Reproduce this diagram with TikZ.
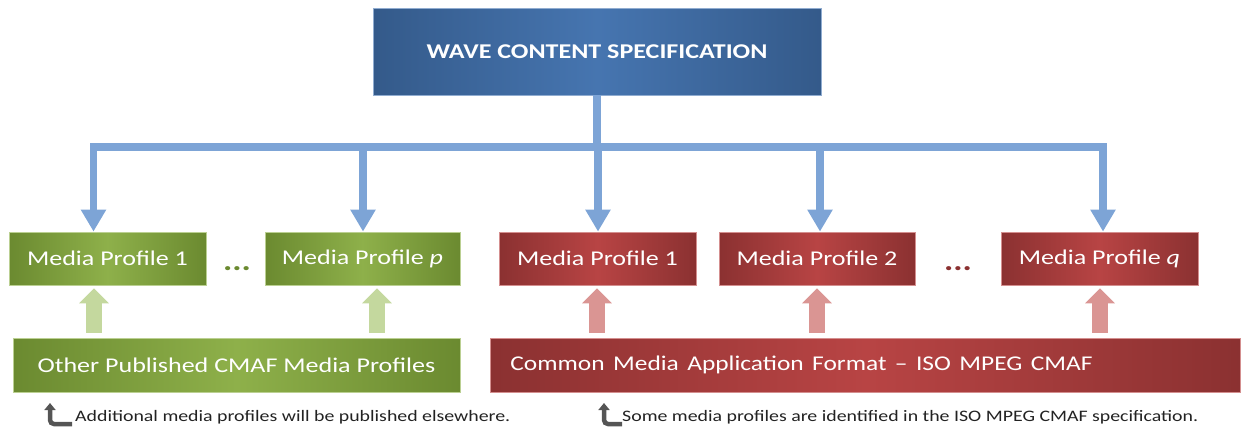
\documentclass[tikz,border=0pt]{standalone}
\usepackage{fontspec}
\usepackage{graphicx}
\setmainfont{Carlito}
\usetikzlibrary{arrows.meta}
\newcommand{\hs}[1]{\scalebox{1.24}[1]{#1}}
\definecolor{bluedark}{HTML}{345A8A}
\definecolor{bluemid}{HTML}{4675B0}
\definecolor{greendark}{HTML}{6B8A30}
\definecolor{greenmid}{HTML}{8EB04A}
\definecolor{reddark}{HTML}{8B3131}
\definecolor{redmid}{HTML}{B84444}
\definecolor{connblue}{HTML}{7DA4D6}
\definecolor{upgreen}{HTML}{C4D89E}
\definecolor{upred}{HTML}{DA9593}
\definecolor{icongray}{HTML}{555555}
\definecolor{notetext}{HTML}{222222}
\tikzset{
  box/.style={inner sep=0pt, text=white, font=\fontsize{21}{24}\selectfont, line width=0.8pt},
  bluebox/.style={box, left color=bluedark, right color=bluedark, middle color=bluemid, draw=bluemid!60!white},
  greenbox/.style={box, left color=greendark, right color=greendark, middle color=greenmid, draw=greenmid!60!white, minimum height=53pt},
  redbox/.style={box, left color=reddark, right color=reddark, middle color=redmid, draw=redmid!60!white, minimum height=53pt},
  conn/.style={draw=connblue, line width=7.5pt},
  conntip/.style={conn, -{Triangle[width=24pt,length=22pt]}},
  upgarrow/.style={draw=upgreen, line width=16pt, -{Triangle[width=29pt,length=15pt]}, shorten >=3pt, shorten <=5pt},
  uprarrow/.style={draw=upred, line width=16pt, -{Triangle[width=29pt,length=15pt]}, shorten >=3pt, shorten <=5pt},
  dots/.style={font=\fontsize{28}{30}\selectfont\bfseries, inner sep=0pt, anchor=base},
  note/.style={font=\fontsize{16}{18}\selectfont, text=notetext, inner sep=0pt, anchor=base west},
  icon/.style={draw=icongray, line width=4.5pt, rounded corners=4pt, -{Triangle[width=11pt,length=7pt]}}
}
\begin{document}
\begin{tikzpicture}[x=1pt,y=-1pt]
\useasboundingbox (0,0) rectangle (1241,432);
% top
\node[bluebox, minimum width=448pt, minimum height=87pt, font=\fontsize{21}{24}\selectfont\bfseries] (top) at (597,51.5) {\hs{WAVE CONTENT SPECIFICATION}};
% profiles
\node[greenbox, minimum width=197pt] (gp1) at (107.5,258.5) {\hs{Media Profile 1}};
\node[greenbox, minimum width=195pt] (gpp) at (362.5,258.5) {\hs{Media Profile \textit{p}}};
\node[redbox, minimum width=197pt] (rp1) at (597.5,258.5) {\hs{Media Profile 1}};
\node[redbox, minimum width=196pt] (rp2) at (817,258.5) {\hs{Media Profile 2}};
\node[redbox, minimum width=197pt] (rpq) at (1099.5,258.5) {\hs{Media Profile \textit{q}}};
\node[dots, text=greendark] (gdots) at (237,270) {\hs{...}};
\node[dots, text=reddark] (rdots) at (958,270) {\hs{...}};
% bottom boxes
\node[greenbox, minimum width=447pt, minimum height=54pt] (gb) at (236.5,365) {\hs{Other Published CMAF Media Profiles}};
\node[redbox, anchor=west, minimum height=54pt, text width=710pt, inner xsep=20pt, align=left] (rb) at (490,365) {\scalebox{1.21}[1]{Common Media Application Format -- ISO MPEG CMAF}};
% blue tree
\coordinate (bus) at (597,147);
\coordinate (b1) at (93.5,147);
\coordinate (b2) at (363,147);
\coordinate (b3) at (598,147);
\coordinate (b4) at (820,147);
\coordinate (b5) at (1103,147);
\draw[conn] (top.south) -- (bus);
\draw[conn, line cap=rect] (b1) -- (b5);
\draw[conntip] (b1) -- (gp1.north -| b1);
\draw[conntip] (b2) -- (gpp.north -| b2);
\draw[conntip] (b3) -- (rp1.north -| b3);
\draw[conntip] (b4) -- (rp2.north -| b4);
\draw[conntip] (b5) -- (rpq.north -| b5);
% up arrows
\coordinate (u1) at (94,0);
\coordinate (u2) at (377,0);
\coordinate (u3) at (597,0);
\coordinate (u4) at (817,0);
\coordinate (u5) at (1100,0);
\draw[upgarrow] (gb.north -| u1) -- (gp1.south -| u1);
\draw[upgarrow] (gb.north -| u2) -- (gpp.south -| u2);
\draw[uprarrow] (rb.north -| u3) -- (rp1.south -| u3);
\draw[uprarrow] (rb.north -| u4) -- (rp2.south -| u4);
\draw[uprarrow] (rb.north -| u5) -- (rpq.south -| u5);
% notes
\draw[icon] (72,424) -- (50,424) -- (50,403);
\node[note] (n1) at (75,421) {\hs{Additional media profiles will be published elsewhere.}};
\draw[icon] (622,424) -- (604,424) -- (604,403);
\node[note] (n2) at (622,421) {\hs{Some media profiles are identified in the ISO MPEG CMAF specification.}};
\end{tikzpicture}
\end{document}
